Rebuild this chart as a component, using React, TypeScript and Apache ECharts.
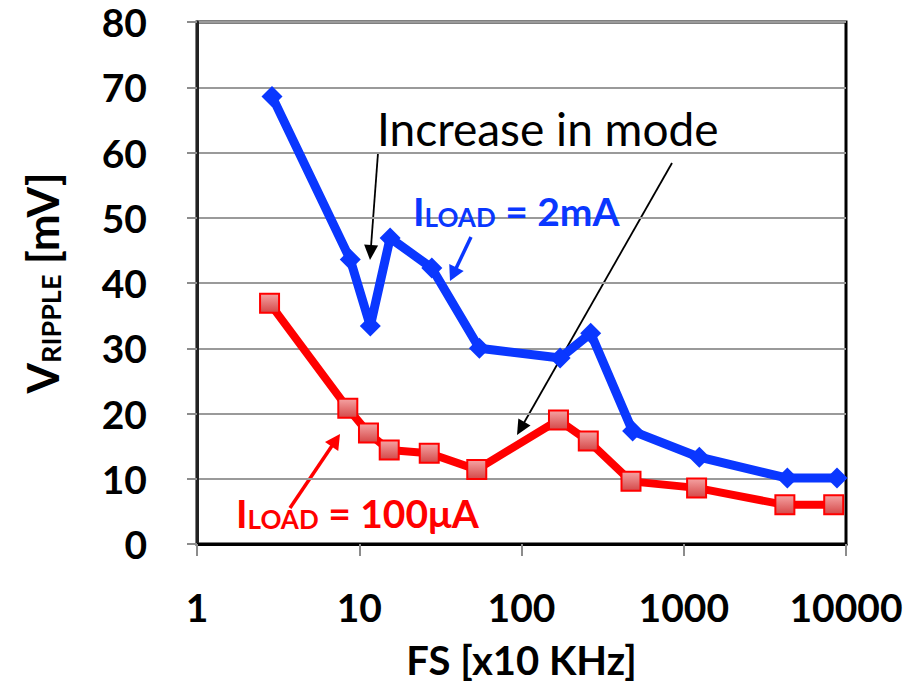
import React, { useEffect, useRef } from "react";
import * as echarts from "echarts";

const xTicks = [1, 10, 100, 1000, 10000];
const blueData: [number, number][] = [
  [2.9, 68.6], [8.8, 43.6], [11.7, 33.4], [15.5, 46.9], [28, 42.3], [55, 30.0],
  [173, 28.5], [267, 32.3], [484, 17.3], [1247, 13.3], [4350, 10.1], [8800, 10.1],
];
const redData: [number, number][] = [
  [2.8, 36.9], [8.5, 20.8], [11.4, 17.0], [15.3, 14.4], [27, 13.9], [53, 11.4],
  [169, 19.0], [258, 15.8], [473, 9.6], [1200, 8.6], [4200, 6.0], [8400, 6.0],
];
const blueLabel = "I_LOAD = 2mA";
const redLabel = "I_LOAD = 100μA";
const noteLabel = "Increase in mode";

const FONT = "Lato";
const BLUE = "#0a37ff";
const RED = "#ff0000";

function arrow(x1: number, y1: number, x2: number, y2: number, color: string, w: number, hl: number, hw: number) {
  const dx = x2 - x1, dy = y2 - y1;
  const len = Math.sqrt(dx * dx + dy * dy);
  const ux = dx / len, uy = dy / len;
  const bx = x2 - ux * hl, by = y2 - uy * hl;
  const px = -uy, py = ux;
  return [
    { type: "line", silent: true, shape: { x1, y1, x2: bx + ux * 2, y2: by + uy * 2 }, style: { stroke: color, lineWidth: w } },
    {
      type: "polygon", silent: true,
      shape: { points: [[x2, y2], [bx + px * hw, by + py * hw], [bx - px * hw, by - py * hw]] },
      style: { fill: color },
    },
  ];
}

function subText(label: string) {
  const [main, rest] = label.split("_");
  const [sub, ...tail] = rest.split(" ");
  return `{b|${main}}{s|${sub}}{b| ${tail.join(" ")}}`;
}

export default function App() {
  const ref = useRef<HTMLDivElement>(null);
  useEffect(() => {
    document.body.style.margin = "0";
    const chart = echarts.init(ref.current!, null, { renderer: "svg" });
    const richFor = (color: string) => ({
      b: { fontFamily: FONT, fontWeight: "bold", fontSize: 39, lineHeight: 40, color, fill: color, verticalAlign: "bottom" },
      s: { fontFamily: FONT, fontWeight: "bold", fontSize: 26, lineHeight: 14, color, fill: color, verticalAlign: "bottom" },
    });
    chart.setOption({
      animation: false,
      backgroundColor: "#ffffff",
      grid: {
        left: 197, right: 66, top: 22, bottom: 139,
        show: true, borderColor: "#000", borderWidth: 3, backgroundColor: "transparent",
      },
      xAxis: {
        type: "log", logBase: 10, min: xTicks[0], max: xTicks[xTicks.length - 1],
        name: "FS [x10 KHz]",
        nameLocation: "middle", nameGap: 116,
        nameTextStyle: { fontFamily: FONT, fontWeight: "bold", fontSize: 40, color: "#000", verticalAlign: "middle" },
        axisLine: { show: true, lineStyle: { color: "#000", width: 3 } },
        axisTick: { show: true, inside: false, length: 12, lineStyle: { color: "#8c8c8c", width: 2 } },
        minorTick: { show: false },
        splitLine: { show: false },
        axisLabel: {
          fontFamily: FONT, fontWeight: "bold", fontSize: 39, color: "#000", margin: 43,
          formatter: (v: number) => String(Math.round(v)),
        },
      },
      yAxis: {
        type: "value", min: 0, max: 80, interval: 10,
        name: "{b|V}{s|RIPPLE}{b| [mV]}",
        nameLocation: "middle", nameGap: 156, nameRotate: 90,
        nameTextStyle: {
          verticalAlign: "middle",
          rich: {
            b: { fontFamily: FONT, fontWeight: "bold", fontSize: 44, lineHeight: 46, color: "#000", verticalAlign: "bottom" },
            s: { fontFamily: FONT, fontWeight: "bold", fontSize: 27, lineHeight: 18, color: "#000", verticalAlign: "bottom" },
          },
        },
        axisLine: { show: true, lineStyle: { color: "#222", width: 3 } },
        axisTick: { show: true, inside: false, length: 10, lineStyle: { color: "#8c8c8c", width: 2 } },
        splitLine: { show: true, lineStyle: { color: "#9a9a9a", width: 2 } },
        axisLabel: { fontFamily: FONT, fontWeight: "bold", fontSize: 39, color: "#000", margin: 50 },
      },
      series: [
        {
          name: "100uA", type: "line", data: redData,
          symbol: "rect", symbolSize: 19,
          lineStyle: { color: RED, width: 8 },
          itemStyle: {
            color: new echarts.graphic.LinearGradient(0, 0, 0, 1, [
              { offset: 0, color: "#f5a3a3" },
              { offset: 1, color: "#d44848" },
            ]),
            borderColor: RED, borderWidth: 2,
          },
          z: 3,
        },
        {
          name: "2mA", type: "line", data: blueData,
          symbol: "diamond", symbolSize: 21,
          lineStyle: { color: BLUE, width: 9 },
          itemStyle: { color: BLUE },
          z: 4,
        },
      ],
      graphic: [
        {
          type: "text", silent: true, z: 10,
          style: { text: noteLabel, x: 377, y: 128, fontFamily: FONT, fontSize: 46, fill: "#000", verticalAlign: "middle" },
        },
        ...arrow(378, 153, 370, 260, "#000", 1.8, 15, 7),
        ...arrow(672, 163, 517, 435, "#000", 1.8, 15, 7),
        {
          type: "text", silent: true, z: 10,
          style: { text: subText(blueLabel), x: 413, y: 210, verticalAlign: "middle", rich: richFor(BLUE) },
        },
        ...arrow(471, 237, 450, 281, BLUE, 3.5, 15, 8),
        {
          type: "text", silent: true, z: 10,
          style: { text: subText(redLabel), x: 236, y: 512, verticalAlign: "middle", rich: richFor(RED) },
        },
        ...arrow(290, 508, 340, 434, RED, 3.5, 15, 8),
      ],
    });
    return () => chart.dispose();
  }, []);
  return <div ref={ref} style={{ position: "absolute", left: 0, top: 0, width: 912, height: 685 }} />;
}
